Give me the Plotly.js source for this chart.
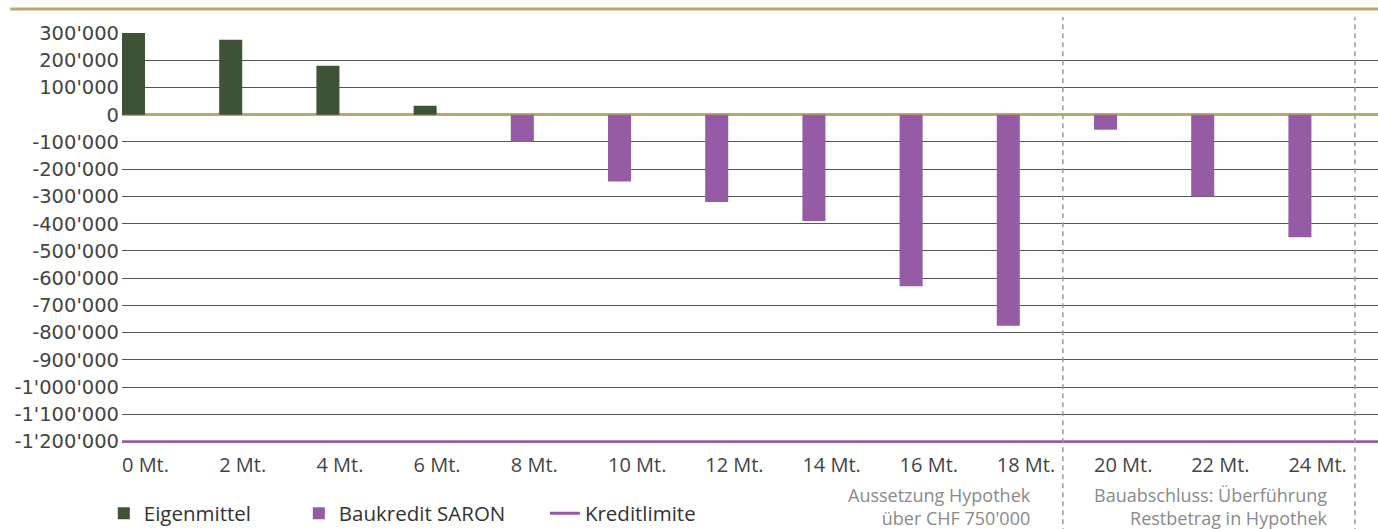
<!DOCTYPE html>
<html>
<head>
<meta charset="utf-8">
<script src="https://cdn.plot.ly/plotly-3.0.1.min.js"></script>
<style>
  html, body { margin: 0; padding: 0; background: #fff; }
  #chart { width: 1378px; height: 529px; }
</style>
</head>
<body>
<div id="chart"></div>
<script>
// ---- data ----
const months = [0, 2, 4, 6, 8, 10, 12, 14, 16, 18, 20, 22, 24];
const monthLabels = ["0 Mt.", "2 Mt.", "4 Mt.", "6 Mt.", "8 Mt.", "10 Mt.", "12 Mt.", "14 Mt.", "16 Mt.", "18 Mt.", "20 Mt.", "22 Mt.", "24 Mt."];
const eigenmittel = [300000, 275000, 180000, 33000, null, null, null, null, null, null, null, null, null];
const baukredit = [null, null, null, null, -100000, -245000, -320000, -390000, -630000, -775000, -55000, -300000, -450000];
const kreditlimite = -1200000;
const yTickValues = [300000, 200000, 100000, 0, -100000, -200000, -300000, -400000, -500000, -600000, -700000, -800000, -900000, -1000000, -1100000, -1200000];
const seriesNames = ["Eigenmittel", "Baukredit SARON", "Kreditlimite"];
const phaseNotes = ["Aussetzung Hypothek<br>über CHF 750'000", "Bauabschluss: Überführung<br>Restbetrag in Hypothek"];

// Swiss style number labels: 1'200'000 with a plain hyphen for negatives
function swiss(v) {
  const s = Math.abs(v).toString().replace(/\B(?=(\d{3})+(?!\d))/g, "'");
  return (v < 0 ? "-" : "") + s;
}
const yTickText = yTickValues.map(swiss);

// ---- layout constants ----
const xRange = [0, 25.844];
const yRange = [-1205000, 300000];
const barW = 0.474;
const phaseLines = [19.36, 25.37];
const noteX = [18.74, 24.85];
const gold = "#bda66c";
const green = "#3e5336";
const purple = "#955ca5";

const traces = [
  {
    type: "bar", name: seriesNames[0], x: months, y: eigenmittel,
    offset: 0, width: barW, marker: { color: green }, legend: "legend",
    hoverinfo: "x+y"
  },
  {
    type: "bar", name: seriesNames[1], x: months, y: baukredit,
    offset: 0, width: barW, marker: { color: purple }, legend: "legend2",
    hoverinfo: "x+y"
  },
  {
    type: "scatter", mode: "lines", name: seriesNames[2],
    x: xRange, y: [kreditlimite, kreditlimite],
    line: { color: purple, width: 3 }, legend: "legend3", hoverinfo: "skip"
  }
];

const legendCommon = {
  orientation: "h", yanchor: "middle", y: -0.172, xanchor: "left",
  font: { family: "Open Sans", size: 20.5, color: "#333" },
  bgcolor: "rgba(0,0,0,0)", traceorder: "normal"
};

const shapes = phaseLines.map(v => ({
  type: "line", xref: "x", yref: "paper", x0: v, x1: v, y0: -0.22, y1: 1.039,
  line: { color: "#9a9a9a", width: 1.5, dash: "5px,4px" }, layer: "above"
}));
shapes.push({
  type: "line", xref: "paper", yref: "paper", x0: -0.089, x1: 1, y0: 1.0585, y1: 1.0585,
  line: { color: gold, width: 3 }
});

const annotations = phaseNotes.map((t, i) => ({
  xref: "x", yref: "paper", x: noteX[i], y: -0.156, xanchor: "right", yanchor: "middle",
  align: "right", showarrow: false, text: t,
  font: { family: "Open Sans", size: 18, color: "#8a8a8a" }
}));

const layout = {
  width: 1378, height: 529,
  margin: { l: 122, r: 0, t: 33, b: 86, pad: 0, autoexpand: false },
  paper_bgcolor: "#fff", plot_bgcolor: "#fff",
  barmode: "overlay",
  showlegend: true,
  xaxis: {
    type: "linear", range: xRange, tickmode: "array", tickvals: months, ticktext: monthLabels,
    ticklabelposition: "outside right", showgrid: false, zeroline: false, showline: false,
    ticks: "", ticklabelstandoff: 8, automargin: false,
    tickfont: { family: "Open Sans", size: 20, color: "#444" }, fixedrange: true
  },
  yaxis: {
    range: yRange, tickmode: "array", tickvals: yTickValues, ticktext: yTickText,
    showgrid: true, gridcolor: "#555", gridwidth: 1,
    zeroline: true, zerolinecolor: gold, zerolinewidth: 3,
    showline: false, ticks: "", ticklabelstandoff: 2, automargin: false,
    tickfont: { family: "DejaVu Sans", size: 19.5, color: "#444" }, fixedrange: true
  },
  legend: Object.assign({}, legendCommon, { x: -0.0145 }),
  legend2: Object.assign({}, legendCommon, { x: 0.1408 }),
  legend3: Object.assign({}, legendCommon, { x: 0.3367 }),
  shapes: shapes,
  annotations: annotations
};

Plotly.newPlot("chart", traces, layout, { displayModeBar: false, staticPlot: true });
</script>
</body>
</html>
